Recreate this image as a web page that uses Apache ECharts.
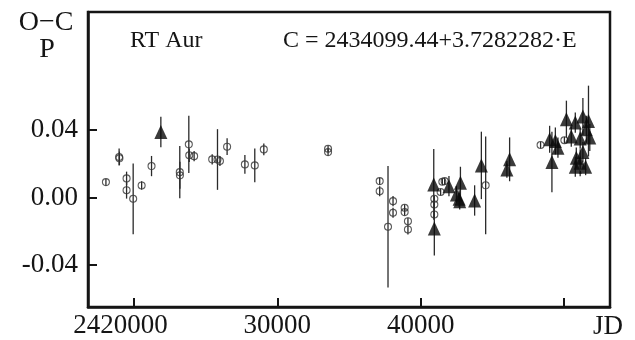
<!DOCTYPE html>
<html><head><meta charset="utf-8">
<script src="https://cdn.jsdelivr.net/npm/echarts@6/dist/echarts.min.js"></script>
<style>html,body{margin:0;padding:0;background:#fff}#c{width:635px;height:340px}</style>
</head><body><div id="c"></div>
<script>
// JD - 2400000, O-C in periods, error half-length
const circleJD  = [18050,18970,18990,19490,19490,19950,20540,21230,23200,23210,23830,23860,24200,25460,25830,26000,26500,27740,28430,29060,33540,33540,37140,37140,38070,38070,37720,38880,38880,39110,39110,40950,40950,40950,41510,41390,41670,44530,48360,50020];
const circleOC  = [0.0091,0.0240,0.0232,0.0113,0.0043,-0.0008,0.0071,0.0186,0.0150,0.0131,0.0315,0.0250,0.0245,0.0226,0.0225,0.0216,0.0301,0.0196,0.0190,0.0285,0.0289,0.0269,0.0097,0.0037,-0.0022,-0.0091,-0.0174,-0.0061,-0.0087,-0.0141,-0.0190,-0.0008,-0.0042,-0.0101,0.0093,0.0032,0.0097,0.0072,0.0311,0.0339];
const circleErr = [0.002,0.005,0.004,0.004,0.005,0.021,0.0025,0.006,0.0155,0.008,0.017,0.004,0.003,0.003,0.018,0.003,0.005,0.0055,0.010,0.0035,0.002,0.002,0.002,0.003,0.003,0.003,0.036,0.002,0.002,0.002,0.003,0.002,0.002,0.002,0.002,0.002,0.002,0.029,0.002,0.002];

const triJD  = [21880,40910,40950,41970,42770,42490,42680,42720,43760,44230,46200,46010,48990,49390,49570,49150,50160,50780,51310,51700,51550,50500,51120,51790,51310,50850,51120,50780,51500];
const triOC  = [0.0388,0.0077,-0.0184,0.0067,0.0087,0.0018,-0.0008,-0.0022,-0.0018,0.0190,0.0226,0.0166,0.0345,0.0335,0.0295,0.0210,0.0464,0.0444,0.0480,0.0453,0.0404,0.0361,0.0349,0.0355,0.0269,0.0236,0.0206,0.0182,0.0182];
const triErr = [0.009,0.021,0.016,0.006,0.0095,0.005,0.005,0.005,0.009,0.020,0.013,0.005,0.008,0.008,0.006,0.018,0.011,0.006,0.011,0.021,0.008,0.006,0.006,0.008,0.006,0.006,0.008,0.006,0.005];

const xTicks = [20000,30000,40000,50000];
const xTickLabels = ['2420000','30000','40000',''];
const yTicks = [-0.04,0,0.04];
const yTickLabels = ['-0.04','0.00','0.04'];

const FONT = 'Liberation Serif';
const INK = '#151515';

const errData = [];
circleJD.forEach((x,i)=>errData.push([x, circleOC[i]-circleErr[i], circleOC[i]+circleErr[i]]));
triJD.forEach((x,i)=>errData.push([x, triOC[i]-triErr[i], triOC[i]+triErr[i]]));

const chart = echarts.init(document.getElementById('c'), null, {renderer:'canvas'});
chart.setOption({
  animation:false,
  backgroundColor:'#fff',
  grid:{left:88, right:25, top:12, bottom:33, show:true, borderColor:INK, borderWidth:2.5, backgroundColor:'transparent'},
  xAxis:{
    type:'value', min:16800, max:53200,
    splitLine:{show:false},
    axisLine:{show:true, onZero:false, lineStyle:{color:INK, width:2.5}},
    axisTick:{show:true, inside:true, length:9, customValues:xTicks, lineStyle:{color:INK, width:2}},
    axisLabel:{
      customValues:xTicks, margin:5, color:INK, fontFamily:FONT, fontSize:27,
      formatter:v=>{const s = xTickLabels[xTicks.indexOf(v)]; return s.length>5 ? '{w|'+s+'}' : s;},
      rich:{w:{fontFamily:FONT, fontSize:27, color:INK, padding:[0,27,0,0]}}
    }
  },
  yAxis:{
    type:'value', min:-0.065, max:0.11,
    splitLine:{show:false},
    axisLine:{show:true, onZero:false, lineStyle:{color:INK, width:2.5}},
    axisTick:{show:true, inside:true, length:9, customValues:yTicks, lineStyle:{color:INK, width:2}},
    axisLabel:{
      customValues:yTicks, margin:10, color:INK, fontFamily:FONT, fontSize:27,
      formatter:v=>{let k=0; yTicks.forEach((t,i)=>{if(Math.abs(t-v)<1e-9)k=i;}); return yTickLabels[k];}
    }
  },
  series:[
    {
      type:'custom', data:errData, encode:{x:0, y:[1,2]}, clip:true, z:1,
      renderItem:(params, api)=>{
        const p1 = api.coord([api.value(0), api.value(1)]);
        const p2 = api.coord([api.value(0), api.value(2)]);
        return {type:'line', shape:{x1:p1[0], y1:p1[1], x2:p2[0], y2:p2[1]}, style:{stroke:'#2a2a2a', lineWidth:1.3}};
      }
    },
    {
      type:'scatter', z:2, symbol:'circle', symbolSize:7,
      data:circleJD.map((x,i)=>[x, circleOC[i]]),
      itemStyle:{color:'rgba(255,255,255,0)', borderColor:'#333', borderWidth:1.1}
    },
    {
      type:'scatter', z:3, symbol:'triangle', symbolSize:[13,14],
      data:triJD.map((x,i)=>[x, triOC[i]]),
      itemStyle:{color:'#0a0a0a'}
    }
  ],
  graphic:[
    {type:'text', x:46, y:23, style:{text:'O−C', fontFamily:FONT, fontSize:28, fill:INK, align:'center', verticalAlign:'middle'}},
    {type:'text', x:47, y:50, style:{text:'P', fontFamily:FONT, fontSize:28, fill:INK, align:'center', verticalAlign:'middle'}},
    {type:'text', x:130, y:41, style:{text:'RT Aur', fontFamily:FONT, fontSize:24, fill:INK, align:'left', verticalAlign:'middle'}},
    {type:'text', x:283, y:41, style:{text:'C = 2434099.44+3.7282282·E', fontFamily:FONT, fontSize:24, fill:INK, align:'left', verticalAlign:'middle'}},
    {type:'text', x:608, y:327, style:{text:'JD', fontFamily:FONT, fontSize:27, fill:INK, align:'center', verticalAlign:'middle'}}
  ]
});
</script>
</body></html>
